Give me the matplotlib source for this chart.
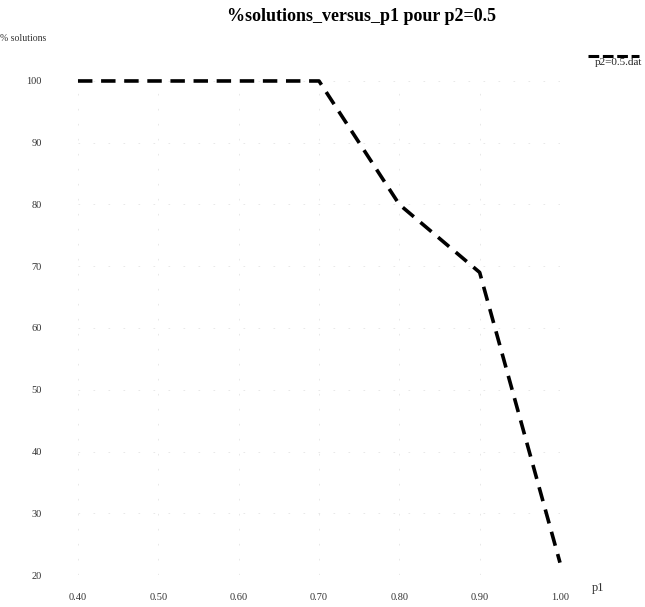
import matplotlib
matplotlib.use("Agg")
import matplotlib.pyplot as plt
from matplotlib.lines import Line2D

p1 = [0.40, 0.50, 0.60, 0.70, 0.80, 0.90, 1.00]
pct_solutions = [100, 100, 100, 100, 80, 69, 22]
xticks = [0.40, 0.50, 0.60, 0.70, 0.80, 0.90, 1.00]
xtick_labels = ["0.40", "0.50", "0.60", "0.70", "0.80", "0.90", "1.00"]
yticks = [20, 30, 40, 50, 60, 70, 80, 90, 100]
title = "%solutions_versus_p1 pour p2=0.5"
legend_label = "p2=0.5.dat"

plt.rcParams['font.family'] = ['Liberation Serif', 'DejaVu Serif']

fig = plt.figure(figsize=(6.45, 6.07), dpi=100)
ax = fig.add_axes([0.1209, 0.0527, 0.7473, 0.8139])
ax.plot(p1, pct_solutions, color='black', lw=2.6, ls=(0, (4, 2.4)), clip_on=False)
ax.set_xlim(0.40, 1.00)
ax.set_ylim(20, 100)
ax.set_xticks(xticks)
ax.set_xticklabels(xtick_labels)
ax.set_yticks(yticks)
for s in ax.spines.values():
    s.set_visible(False)
ax.tick_params(axis='both', length=0, labelsize=7.5, colors='#333333')
ax.tick_params(axis='x', pad=13)
ax.tick_params(axis='y', pad=26)
ax.grid(True, color='#e4e4e4', lw=0.6, ls=(0, (2, 16)))

fig.text(0.56, 0.972, title, ha='center', va='center', fontsize=13, fontweight='bold')
fig.text(0.0, 0.937, "% solutions", ha='left', va='center', fontsize=7, color='#333333')
fig.text(0.918, 0.031, "p1", ha='left', va='center', fontsize=9, color='#333333')
fig.text(0.996, 0.897, legend_label, ha='right', va='center', fontsize=8, color='#222222')
fig.add_artist(Line2D([0.911, 0.99], [0.908, 0.908], transform=fig.transFigure,
                      color='black', lw=2.2, ls=(0, (3.5, 1.2))))

fig.savefig("out.png", dpi=100)
